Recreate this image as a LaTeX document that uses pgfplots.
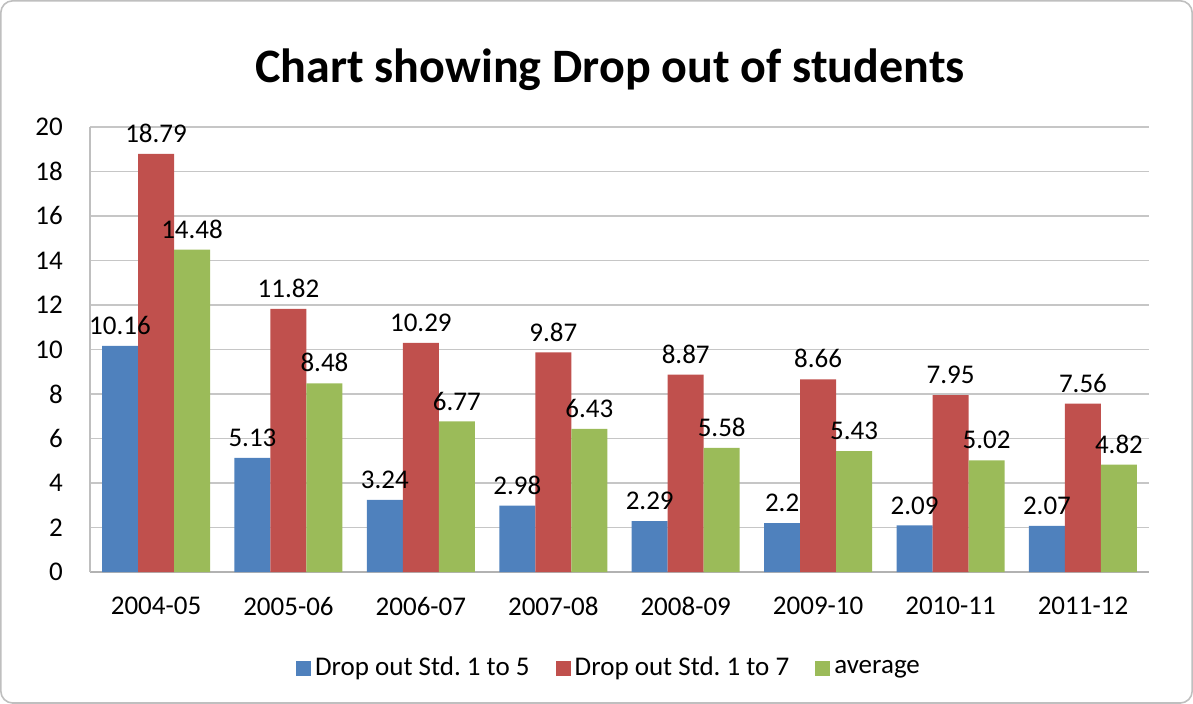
\documentclass[border=0pt]{standalone}
\usepackage{pgfplots}
\pgfplotsset{compat=1.18}
\usepackage{fontspec}
\setmainfont{Carlito}
\frenchspacing
\definecolor{cblue}{HTML}{4F81BD}
\definecolor{cred}{HTML}{C0504D}
\definecolor{cgreen}{HTML}{9BBB59}
\begin{document}
\begin{tikzpicture}
\draw[gray!50, line width=0.8pt, rounded corners=6pt] (-44.5pt,-65.5pt) rectangle (551pt,285.5pt);
\node[font=\fontsize{24}{28}\selectfont\bfseries] at (260pt,251pt) {Chart showing Drop out of students};
\begin{axis}[
  at={(0,0)}, anchor=south west,
  scale only axis, width=529.5pt, height=222.5pt,
  ybar=0pt, bar width=18pt,
  xmin=-0.5, xmax=7.5, ymin=0, ymax=20,
  xtick=data,
  xticklabels={2004-05,2005-06,2006-07,2007-08,2008-09,2009-10,2010-11,2011-12},
  ytick={0,2,...,20},
  ymajorgrids, grid style={gray!45, line width=0.8pt},
  axis x line*=bottom, axis y line*=left,
  x axis line style={gray!60, line width=1.2pt, -},
  y axis line style={gray!50, line width=0.8pt, -},
  major tick length=0pt,
  tick label style={font=\fontsize{13.5}{15}\selectfont},
  /pgf/number format/assume math mode=true,
  yticklabel style={xshift=-10pt},
  xticklabel style={yshift=-9pt},
  nodes near coords,
  every node near coord/.append style={font=\fontsize{13.5}{15}\selectfont, black, yshift=2pt},
  point meta=explicit symbolic,
  legend style={at={(0.491,-48pt)}, anchor=center, draw=none, legend columns=3,
    font=\fontsize{13.5}{15}\selectfont, /tikz/every even column/.append style={column sep=11pt}},
  legend image code/.code={\fill[#1] (0pt,-3.75pt) rectangle (7.5pt,3.75pt);},
]
\addplot[fill=cblue, draw=none] coordinates {(0,10.16)[10.16] (1,5.13)[5.13] (2,3.24)[3.24] (3,2.98)[2.98] (4,2.29)[2.29] (5,2.2)[2.2] (6,2.09)[2.09] (7,2.07)[2.07]};
\addplot[fill=cred, draw=none] coordinates {(0,18.79)[18.79] (1,11.82)[11.82] (2,10.29)[10.29] (3,9.87)[9.87] (4,8.87)[8.87] (5,8.66)[8.66] (6,7.95)[7.95] (7,7.56)[7.56]};
\addplot[fill=cgreen, draw=none] coordinates {(0,14.48)[14.48] (1,8.48)[8.48] (2,6.77)[6.77] (3,6.43)[6.43] (4,5.58)[5.58] (5,5.43)[5.43] (6,5.02)[5.02] (7,4.82)[4.82]};
\legend{Drop out Std. 1 to 5, Drop out Std. 1 to 7, average}
\end{axis}
\end{tikzpicture}
\end{document}
